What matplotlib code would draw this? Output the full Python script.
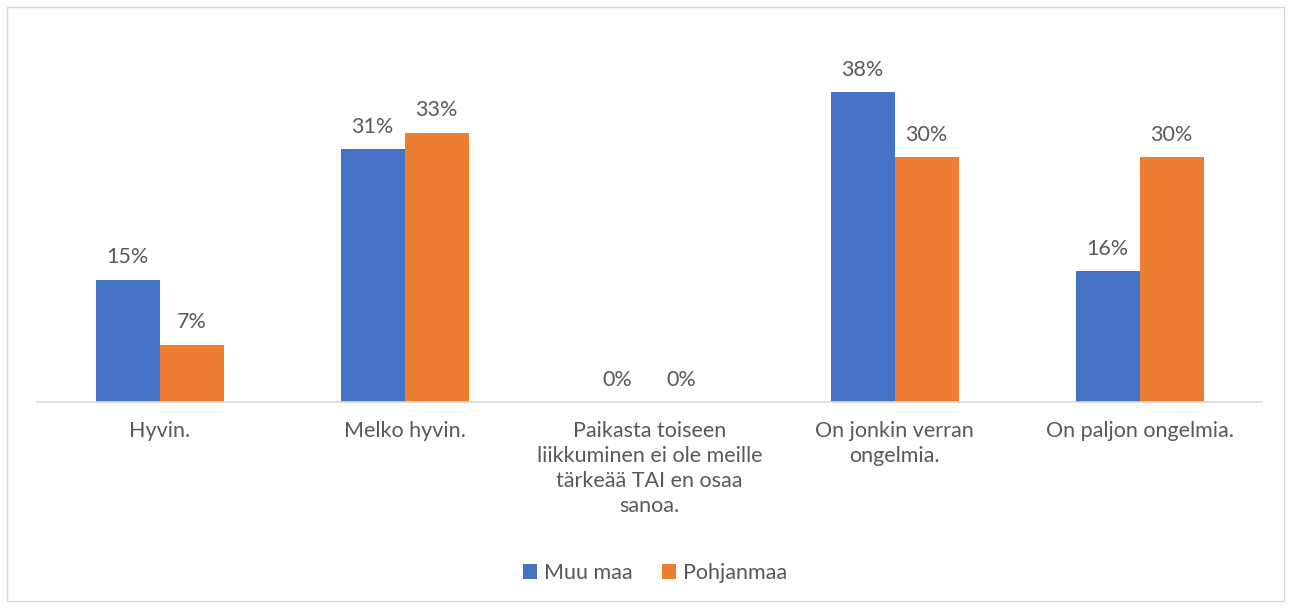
import matplotlib

matplotlib.use("Agg")
import matplotlib.pyplot as plt
from matplotlib.patches import Rectangle
import numpy as np

categories = [
    "Hyvin.",
    "Melko hyvin.",
    "Paikasta toiseen\nliikkuminen ei ole meille\ntärkeää TAI en osaa\nsanoa.",
    "On jonkin verran\nongelmia.",
    "On paljon ongelmia.",
]
muu_maa = [15, 31, 0, 38, 16]
pohjanmaa = [7, 33, 0, 30, 30]
series = ["Muu maa", "Pohjanmaa"]

BLUE = "#4472c4"
ORANGE = "#ed7d31"
TXT = "#595959"
FS = 15.5

plt.rcParams["font.family"] = ["Lato", "DejaVu Sans"]

W, H = 1291, 608
fig = plt.figure(figsize=(W / 100, H / 100), dpi=100)
ax = fig.add_axes([37 / W, 1 - 402 / H, (1262 - 37) / W, (402 - 20) / H])

x = np.arange(len(categories))
bw = 64 / 245
b1 = ax.bar(x - bw / 2, muu_maa, bw, color=BLUE, label=series[0])
b2 = ax.bar(x + bw / 2, pohjanmaa, bw, color=ORANGE, label=series[1])
for bars in (b1, b2):
    ax.bar_label(bars, labels=[f"{v}%" for v in bars.datavalues],
                 padding=9, fontsize=FS, color=TXT)

ax.set_xlim(-0.5, len(categories) - 0.5)
ax.set_ylim(0, 38 * 382 / 310)
for s in ("top", "right", "left"):
    ax.spines[s].set_visible(False)
ax.spines["bottom"].set_color("#d9d9d9")
ax.spines["bottom"].set_linewidth(1.2)
ax.set_yticks([])
ax.set_xticks(x)
ax.set_xticklabels(categories, fontsize=FS, color=TXT, linespacing=1.3, va="top")
ax.tick_params(axis="x", length=0, pad=14)

fig.legend(handles=[b1, b2], loc="center", bbox_to_anchor=(655 / W, 1 - 573 / H),
           ncol=2, frameon=False, fontsize=FS, labelcolor=TXT,
           handlelength=0.65, handleheight=0.65, handletextpad=0.3, columnspacing=1.4)

fig.add_artist(Rectangle((7 / W, 7 / H), (W - 14) / W, (H - 14) / H,
                         transform=fig.transFigure, fill=False,
                         edgecolor="#d9d9d9", linewidth=1))

fig.savefig("out.png", dpi=100)
